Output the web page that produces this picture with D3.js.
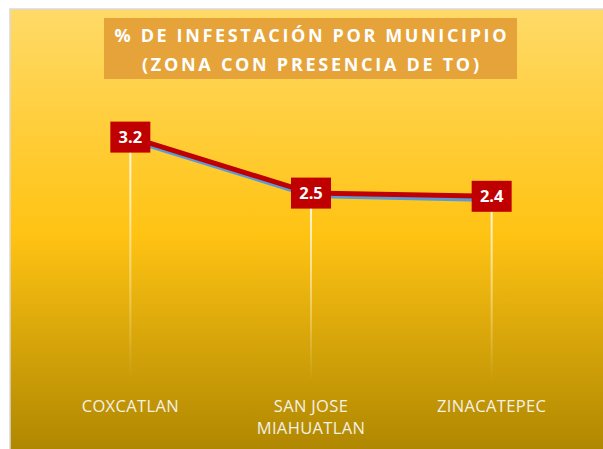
<!DOCTYPE html>
<html>
<head>
<meta charset="utf-8">
<script src="https://cdn.jsdelivr.net/npm/d3@7"></script>
<style>
  html, body { margin: 0; padding: 0; background: #fff; }
  svg { display: block; }
</style>
</head>
<body>
<div id="chart"></div>
<script>
// % de infestación por municipio — line chart with drop lines

const municipios = ['COXCATLAN', 'SAN JOSE MIAHUATLAN', 'ZINACATEPEC'];
const infestacion = [3.18, 2.48, 2.44];   // red series (labelled)
const serieAzul = [3.15, 2.45, 2.40];     // blue series, mostly hidden under red
const titleLines = ['% DE INFESTACIÓN POR MUNICIPIO', '(ZONA CON PRESENCIA DE TO)'];

const W = 603, H = 449;
const m = { top: 71, right: 21, bottom: 58, left: 40 };

const svg = d3.select('#chart').append('svg')
    .attr('width', W).attr('height', H);

const defs = svg.append('defs');

// background gradient
const bg = defs.append('linearGradient')
    .attr('id', 'bg').attr('x1', 0).attr('y1', 0).attr('x2', 0).attr('y2', 1);
bg.append('stop').attr('offset', '0%').attr('stop-color', '#FFDA68');
bg.append('stop').attr('offset', '50%').attr('stop-color', '#FFC313');
bg.append('stop').attr('offset', '100%').attr('stop-color', '#AC8500');

// drop line gradient (fades out downwards)
const dg = defs.append('linearGradient')
    .attr('id', 'drop').attr('x1', 0).attr('y1', 0).attr('x2', 0).attr('y2', 1);
dg.append('stop').attr('offset', '0%').attr('stop-color', '#FFFBEA').attr('stop-opacity', 1);
dg.append('stop').attr('offset', '100%').attr('stop-color', '#FFF3C8').attr('stop-opacity', 0);

svg.append('rect')
    .attr('x', 10).attr('y', 9)
    .attr('width', W).attr('height', H)
    .attr('fill', 'url(#bg)')
    .attr('stroke', '#D9D9D9')
    .attr('stroke-width', 1.5);

// Title
const titleBox = { x: 104, y: 18, w: 413, h: 61 };
svg.append('rect')
    .attr('x', titleBox.x).attr('y', titleBox.y)
    .attr('width', titleBox.w).attr('height', titleBox.h)
    .attr('fill', '#E5A33A');

const titleLens = [392, 337];
titleLines.forEach((t, i) => {
    svg.append('text')
        .attr('x', titleBox.x + titleBox.w / 2)
        .attr('y', 42 + i * 28.5)
        .attr('text-anchor', 'middle')
        .attr('font-family', '"Open Sans", sans-serif')
        .attr('font-weight', 'bold')
        .attr('font-size', '18px')
        .attr('fill', '#FFFFFF')
        .attr('textLength', titleLens[i])
        .attr('lengthAdjust', 'spacing')
        .text(t);
});

// Scales
const x = d3.scalePoint()
    .domain(municipios)
    .range([m.left, W - m.right])
    .padding(0.5);

const y = d3.scaleLinear()
    .domain([0, 4])
    .range([391.5, 71.5]);

const g = svg.append('g');

// Drop lines
g.selectAll('.drop')
    .data(municipios)
    .enter()
    .append('rect')
    .attr('x', d => x(d) - 1)
    .attr('y', (d, i) => y(infestacion[i]))
    .attr('width', 2)
    .attr('height', (d, i) => 381 - y(infestacion[i]))
    .attr('fill', 'url(#drop)');

// Lines
const line = d3.line()
    .x((d, i) => x(municipios[i]))
    .y(d => y(d));

g.append('path').datum(serieAzul)
    .attr('d', line)
    .attr('fill', 'none')
    .attr('stroke', '#5B9BD5')
    .attr('stroke-width', 5)
    .attr('stroke-linejoin', 'round');

g.append('path').datum(infestacion)
    .attr('d', line)
    .attr('fill', 'none')
    .attr('stroke', '#C00000')
    .attr('stroke-width', 5)
    .attr('stroke-linejoin', 'round');

// Data labels
const fmt = d3.format('.1f');
const lbl = g.selectAll('.lbl')
    .data(infestacion)
    .enter()
    .append('g')
    .attr('transform', (d, i) => `translate(${x(municipios[i])},${y(d)})`);

lbl.append('rect')
    .attr('x', -20).attr('y', -15.5)
    .attr('width', 40).attr('height', 31)
    .attr('fill', '#C00000');

lbl.append('text')
    .attr('text-anchor', 'middle')
    .attr('dy', '0.36em')
    .attr('font-family', '"Open Sans", sans-serif')
    .attr('font-weight', 'bold')
    .attr('font-size', '16.5px')
    .attr('fill', '#FFFFFF')
    .text(d => fmt(d));

// Category labels (wrap to two lines where the original does)
const catLines = {
    'COXCATLAN': ['COXCATLAN'],
    'SAN JOSE MIAHUATLAN': ['SAN JOSE', 'MIAHUATLAN'],
    'ZINACATEPEC': ['ZINACATEPEC']
};

municipios.forEach(c => {
    const t = g.append('text')
        .attr('text-anchor', 'middle')
        .attr('font-family', '"Open Sans", sans-serif')
        .attr('font-size', '16.5px')
        .attr('letter-spacing', '0.35px')
        .attr('fill', '#F4F1E6');
    catLines[c].forEach((s, j) => {
        t.append('tspan')
            .attr('x', x(c))
            .attr('y', 411.5 + j * 22.5)
            .text(s);
    });
});
</script>
</body>
</html>
